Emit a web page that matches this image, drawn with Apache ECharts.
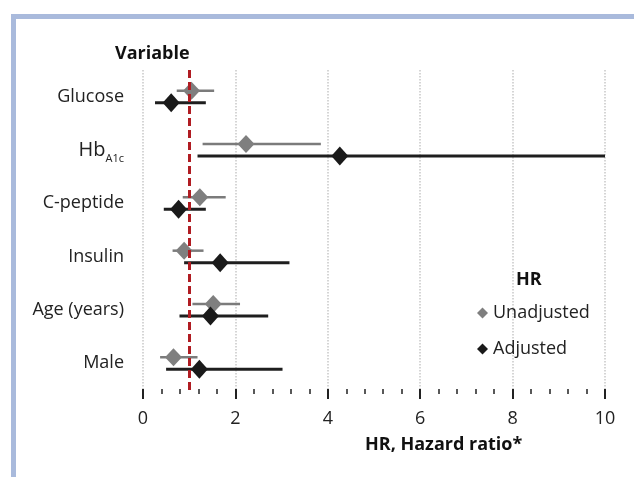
<!DOCTYPE html>
<html><head><meta charset="utf-8">
<script src="https://cdn.jsdelivr.net/npm/echarts@6/dist/echarts.min.js"></script>
<style>html,body{margin:0;padding:0;background:#fff}#c{width:634px;height:477px}</style>
</head><body><div id="c"></div>
<script>
var categories = ['Glucose', 'HbA1c', 'C-peptide', 'Insulin', 'Age (years)', 'Male'];
var unadjHR   = [1.05, 2.23, 1.23, 0.89, 1.52, 0.66];
var unadjLow  = [0.73, 1.29, 0.86, 0.64, 1.07, 0.37];
var unadjHigh = [1.54, 3.85, 1.79, 1.31, 2.10, 1.18];
var adjHR     = [0.61, 4.26, 0.77, 1.67, 1.46, 1.22];
var adjLow    = [0.26, 1.18, 0.45, 0.89, 0.79, 0.50];
var adjHigh   = [1.36, 10.0, 1.36, 3.17, 2.71, 3.02];
var xTicks = [0, 2, 4, 6, 8, 10];
var refValue = 1;

var FONT = 'Open Sans';
var chart = echarts.init(document.getElementById('c'));

function ciSeries(name, low, high, dy, color, width) {
  return {
    type: 'custom', name: name, silent: true,
    data: categories.map(function (c, i) { return [low[i], high[i], i]; }),
    encode: { x: [0, 1], y: 2 },
    renderItem: function (params, api) {
      var a = api.coord([api.value(0), api.value(2)]);
      var b = api.coord([api.value(1), api.value(2)]);
      return { type: 'line', shape: { x1: a[0], y1: a[1] + dy, x2: b[0], y2: b[1] + dy },
        style: { stroke: color, lineWidth: width } };
    },
    z: 3
  };
}

var option = {
  animation: false,
  textStyle: { fontFamily: FONT },
  graphic: [
    { type: 'rect', shape: { x: 11, y: 14, width: 623, height: 5 }, style: { fill: '#a9badc' } },
    { type: 'rect', shape: { x: 11, y: 14, width: 5, height: 463 }, style: { fill: '#a9badc' } }
  ],
  title: [
    { text: 'Variable', left: 110, top: 40, textStyle: { fontFamily: FONT, fontSize: 18, fontWeight: 'bold', color: '#111' } },
    { text: 'HR', left: 511, top: 266, textStyle: { fontFamily: FONT, fontSize: 18, fontWeight: 'bold', color: '#111' } },
    { text: 'HR, Hazard ratio*', left: 360, top: 431, textStyle: { fontFamily: FONT, fontSize: 18, fontWeight: 'bold', color: '#111' } }
  ],
  legend: {
    data: ['Unadjusted', 'Adjusted'], orient: 'vertical', left: 472, top: 299,
    itemGap: 18, itemWidth: 11, itemHeight: 11,
    textStyle: { fontFamily: FONT, fontSize: 18, color: '#222' }
  },
  grid: { left: 143, right: 29, top: 70, bottom: 87 },
  xAxis: [{
    type: 'value', min: 0, max: 10, interval: 2, position: 'bottom', offset: 4,
    axisLine: { lineStyle: { color: '#222', width: 2 } },
    axisTick: { show: true, inside: true, length: 5, lineStyle: { color: '#222', width: 2 } },
    minorTick: { show: true, splitNumber: 5, length: 5, lineStyle: { color: '#222', width: 1.5 } },
    axisLabel: { fontFamily: FONT, fontSize: 18, color: '#222', margin: 16,
      formatter: function (v) { return xTicks.indexOf(v) >= 0 ? String(v) : ''; } },
    splitLine: { show: true, lineStyle: { color: '#c8c8c8', type: 'dotted', width: 1.5 } }
  }, {
    type: 'value', min: 0, max: 10, interval: 2, position: 'bottom', offset: 4,
    axisLine: { show: false },
    axisTick: { show: true, inside: false, length: 5, lineStyle: { color: '#222', width: 2 } },
    axisLabel: { show: false }, splitLine: { show: false }
  }],
  yAxis: {
    type: 'category', data: categories, inverse: true,
    axisLine: { show: false }, axisTick: { show: false }, splitLine: { show: false },
    axisLabel: {
      fontFamily: FONT, fontSize: 18, color: '#222', margin: 19,
      formatter: function (v) { return v === 'HbA1c' ? '{a|Hb}{s|A1c}' : v; },
      rich: {
        a: { fontFamily: FONT, fontSize: 20, color: '#222' },
        s: { fontFamily: FONT, fontSize: 11, color: '#222', padding: [18, 0, 0, 0], verticalAlign: 'bottom' }
      }
    }
  },
  series: [
    {
      type: 'line', name: 'ref', data: [], silent: true,
      markLine: {
        symbol: 'none', silent: true, label: { show: false },
        lineStyle: { color: '#b01c22', width: 3, type: [8, 4] },
        data: [{ xAxis: refValue }]
      },
      z: 2
    },
    ciSeries('unadjCI', unadjLow, unadjHigh, -6, '#7b7b7b', 2.5),
    {
      type: 'scatter', name: 'Unadjusted', symbol: 'diamond', symbolSize: [17, 18], symbolOffset: [0, -6],
      itemStyle: { color: '#7f7f7f', opacity: 1 },
      data: categories.map(function (c, i) { return [unadjHR[i], i]; }), z: 4
    },
    ciSeries('adjCI', adjLow, adjHigh, 6, '#1e1e1e', 3),
    {
      type: 'scatter', name: 'Adjusted', symbol: 'diamond', symbolSize: [17, 19], symbolOffset: [0, 6],
      itemStyle: { color: '#1a1a1a', opacity: 1 },
      data: categories.map(function (c, i) { return [adjHR[i], i]; }), z: 5
    }
  ]
};
chart.setOption(option);
</script></body></html>
